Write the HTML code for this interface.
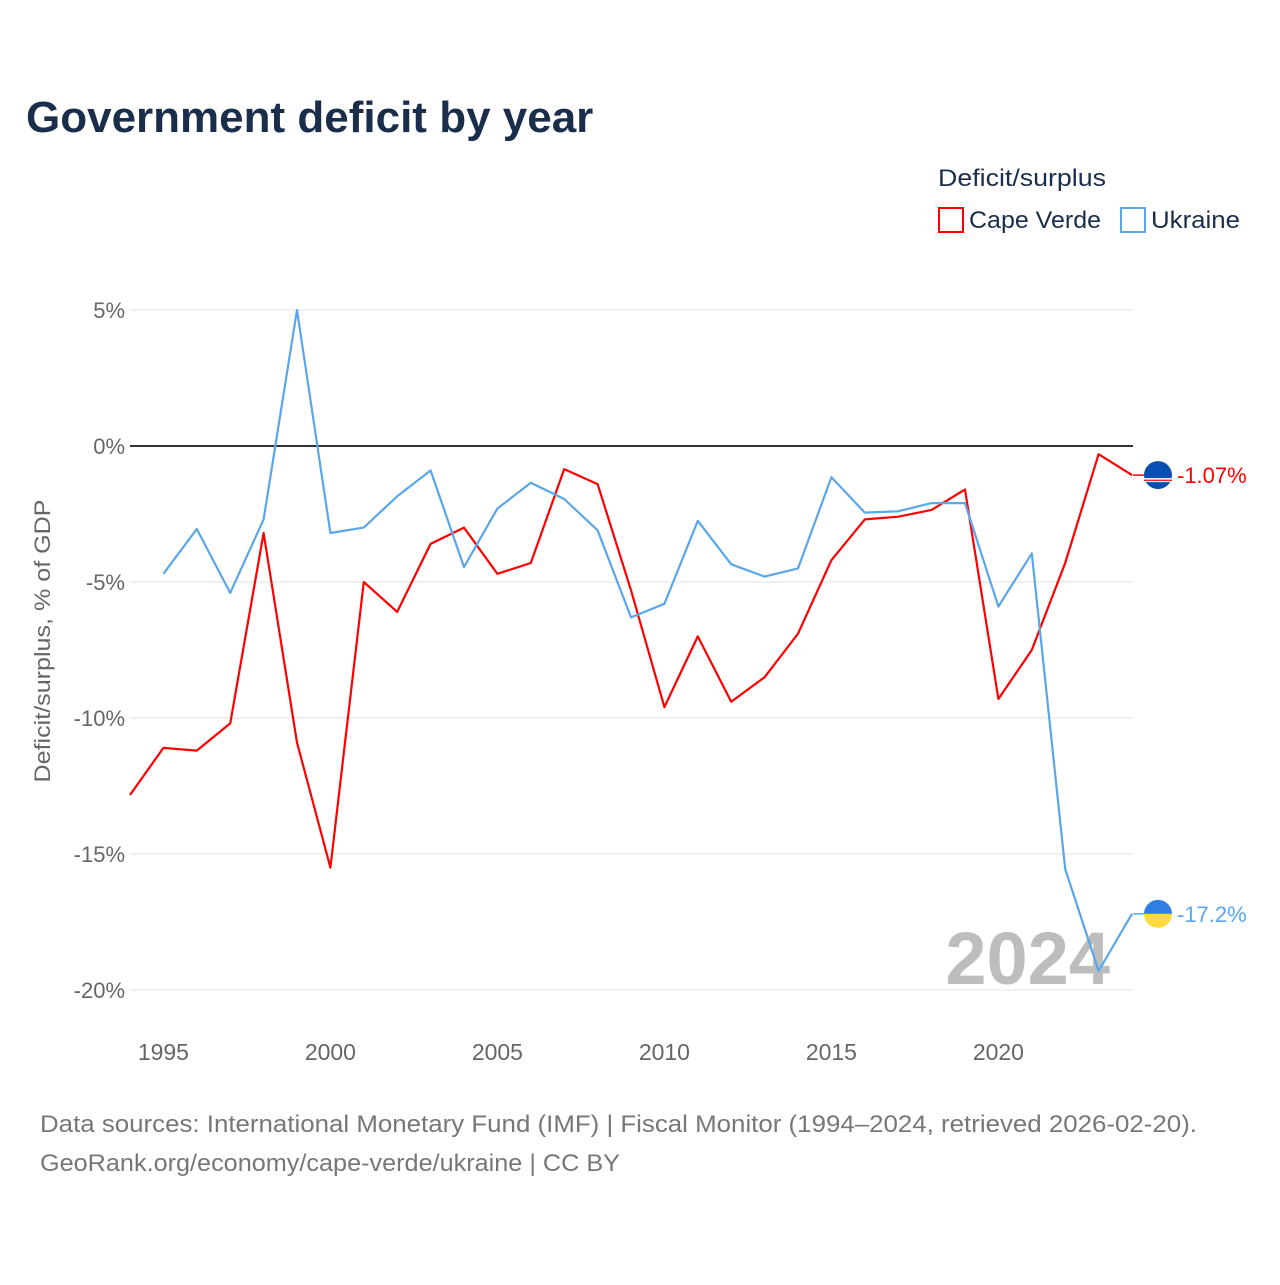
<!DOCTYPE html>
<html><head><meta charset="utf-8"><style>
body{margin:0;background:#fff;font-family:"Liberation Sans",sans-serif}
svg text{font-family:"Liberation Sans",sans-serif}
</style></head><body>
<svg id="chart" width="1280" height="1280" xmlns="http://www.w3.org/2000/svg">
<rect width="1280" height="1280" fill="#fff"/>
<text x="26" y="132" font-size="44" font-weight="bold" fill="#1a2e4c">Government deficit by year</text>
<text x="938" y="186" font-size="24" fill="#1a2e4c" textLength="168" lengthAdjust="spacingAndGlyphs">Deficit/surplus</text>
<g><rect x="939" y="208" width="24" height="24" fill="#fff" stroke="#f00" stroke-width="2"/><text x="969" y="228" font-size="24" fill="#1a2e4c" textLength="132" lengthAdjust="spacingAndGlyphs">Cape Verde</text></g>
<g><rect x="1121" y="208" width="24" height="24" fill="#fff" stroke="#5aa6ea" stroke-width="2"/><text x="1151" y="228" font-size="24" fill="#1a2e4c" textLength="89" lengthAdjust="spacingAndGlyphs">Ukraine</text></g>
<g id="grid"></g>
<g id="xt"></g>
<text transform="translate(50,641) rotate(-90)" text-anchor="middle" font-size="22" fill="#666" textLength="283" lengthAdjust="spacingAndGlyphs">Deficit/surplus, % of GDP</text>
<text x="1110" y="984" text-anchor="end" font-size="74" font-weight="bold" fill="#bdbdbd">2024</text>
<g id="series"></g>
<text x="40" y="1132" font-size="24" fill="#777" textLength="1157" lengthAdjust="spacingAndGlyphs">Data sources: International Monetary Fund (IMF) | Fiscal Monitor (1994–2024, retrieved 2026-02-20).</text>
<text x="40" y="1171" font-size="24" fill="#777" textLength="580" lengthAdjust="spacingAndGlyphs">GeoRank.org/economy/cape-verde/ukraine | CC BY</text>
</svg>
<script>
const years=[1994,1995,1996,1997,1998,1999,2000,2001,2002,2003,2004,2005,2006,2007,2008,2009,2010,2011,2012,2013,2014,2015,2016,2017,2018,2019,2020,2021,2022,2023,2024];
const capeVerde=[-12.83,-11.1,-11.2,-10.2,-3.2,-10.9,-15.5,-5.0,-6.1,-3.6,-3.0,-4.7,-4.3,-0.85,-1.4,-5.3,-9.6,-7.0,-9.4,-8.5,-6.9,-4.2,-2.7,-2.6,-2.35,-1.6,-9.3,-7.5,-4.3,-0.3,-1.07];
const ukraine=[null,-4.7,-3.05,-5.4,-2.7,5.0,-3.2,-3.0,-1.85,-0.9,-4.45,-2.3,-1.35,-1.95,-3.1,-6.3,-5.8,-2.75,-4.35,-4.8,-4.5,-1.15,-2.45,-2.4,-2.1,-2.1,-5.9,-3.95,-15.55,-19.3,-17.2];
const yTicks=[5,0,-5,-10,-15,-20];
const xTicks=[1995,2000,2005,2010,2015,2020];
const NS="http://www.w3.org/2000/svg";
const X=y=>130+(y-1994)*(1002/30);
const Y=v=>446-v*27.2;
function mk(t,a,p){const e=document.createElementNS(NS,t);for(const k in a)e.setAttribute(k,a[k]);p.appendChild(e);return e;}
const grid=document.getElementById('grid');
yTicks.forEach(t=>{
 const l=mk('line',{x1:130,x2:1133,y1:Y(t),y2:Y(t),stroke:t===0?'#333':'#e6e6e6','stroke-width':t===0?2:1.2},grid);
 
 
 const tx=mk('text',{x:125,y:Y(t)+8,'text-anchor':'end','font-size':22,fill:'#666'},grid);
 tx.textContent=t+'%';
 
 
});
const xt=document.getElementById('xt');
xTicks.forEach(t=>{
 const tx=mk('text',{x:X(t),y:1060,'text-anchor':'middle','font-size':23,fill:'#666'},xt);
 tx.textContent=t;
 
 
});
const s=document.getElementById('series');
function line(vals,color,name){
 const pts=[];vals.forEach((v,i)=>{if(v!==null)pts.push(X(years[i]).toFixed(1)+','+Y(v).toFixed(1));});
 const p=mk('polyline',{points:pts.join(' '),fill:'none',stroke:color,'stroke-width':2.2,'stroke-linejoin':'round'},s);
 
 
}
line(capeVerde,'#f00','cape-verde-line');
line(ukraine,'#5aa6ea','ukraine-line');
function endLabel(v,color,name,flag,txt){
 const y=Y(v);
 mk('line',{x1:1133,y1:y,x2:1145,y2:y,stroke:color,'stroke-width':1.5},s);
 const g=mk('g',{},s);
 
 
 if(flag==='ukraine-flag'){
  mk('path',{d:`M1144 ${y} a14 14 0 0 1 28 0 z`,fill:'#2f7fe6'},g);
  mk('path',{d:`M1144 ${y} a14 14 0 0 0 28 0 z`,fill:'#ffd93d'},g);
 }else{
  mk('circle',{cx:1158,cy:y,r:14,fill:'#0a4fb4'},g);
  mk('rect',{x:1144,y:y+3,width:28,height:4,fill:'#fff'},g);
  mk('rect',{x:1144,y:y+4.5,width:28,height:1.5,fill:'#e22'},g);
 }
 const t=mk('text',{x:1177,y:y+8,'font-size':22,fill:color},s);
 t.textContent=txt;
 
 
}
endLabel(capeVerde[capeVerde.length-1],'#f00','cape-verde-end-label','cape-verde-flag',capeVerde[capeVerde.length-1]+'%');
endLabel(ukraine[ukraine.length-1],'#5aa6ea','ukraine-end-label','ukraine-flag',ukraine[ukraine.length-1]+'%');
</script>
</body></html>
